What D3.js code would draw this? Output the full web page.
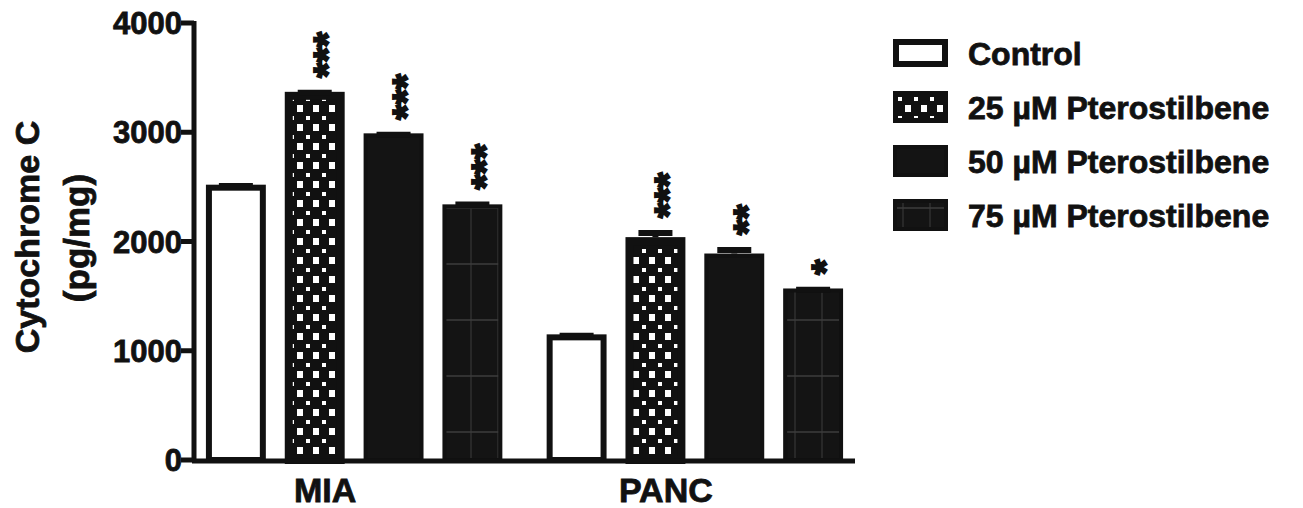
<!DOCTYPE html>
<html>
<head>
<meta charset="utf-8">
<script src="https://cdn.jsdelivr.net/npm/d3@7"></script>
<style>
  html, body { margin: 0; padding: 0; background: #fff; }
  text { font-family: "Liberation Sans", Arial, sans-serif; font-weight: bold; fill: #111; }
</style>
</head>
<body>
<svg id="chart" width="1303" height="508"></svg>
<script>
// ---- data ----
const groups = ["MIA", "PANC"];
const series = ["Control", "25 µM Pterostilbene", "50 µM Pterostilbene", "75 µM Pterostilbene"];
const miaValues = [2520, 3370, 2990, 2340];
const pancValues = [1150, 2040, 1890, 1570];
const miaErrors = [15, 20, 15, 25];
const pancErrors = [15, 65, 60, 15];
const miaStars = ["", "***", "***", "***"];
const pancStars = ["", "***", "**", "*"];
const yTicks = [0, 1000, 2000, 3000, 4000];
const yTitle = ["Cytochrome C", "(pg/mg)"];

const data = [];
groups.forEach((g, gi) => {
  const vals = gi === 0 ? miaValues : pancValues;
  const errs = gi === 0 ? miaErrors : pancErrors;
  const stars = gi === 0 ? miaStars : pancStars;
  series.forEach((s, si) => data.push({group: g, series: s, si, value: vals[si], err: errs[si], star: stars[si]}));
});

const svg = d3.select("#chart");
const defs = svg.append("defs");

// pattern: black with white squares in a diamond lattice (25 µM)
const pDots = defs.append("pattern").attr("id", "dots")
  .attr("patternUnits", "userSpaceOnUse").attr("width", 16).attr("height", 19);
pDots.append("rect").attr("width", 16).attr("height", 19).attr("fill", "#111");
pDots.append("rect").attr("x", 2).attr("y", 2).attr("width", 4).attr("height", 4).attr("fill", "#fff");
pDots.append("rect").attr("x", 9).attr("y", 10).attr("width", 6).attr("height", 7).attr("fill", "#fff");

// pattern: black with faint grid (75 µM)
const pGrid = defs.append("pattern").attr("id", "grid")
  .attr("patternUnits", "userSpaceOnUse").attr("width", 27).attr("height", 56);
pGrid.append("rect").attr("width", 27).attr("height", 56).attr("fill", "#141414");
pGrid.append("line").attr("x1", 12).attr("x2", 12).attr("y1", 0).attr("y2", 56)
  .attr("stroke", "#2e2e2e").attr("stroke-width", 1.5);
pGrid.append("line").attr("x1", 0).attr("x2", 27).attr("y1", 40).attr("y2", 40)
  .attr("stroke", "#3c3c3c").attr("stroke-width", 1.5);

const fills = ["#fff", "url(#dots)", "#141414", "url(#grid)"];
const strokeW = [6, 8, 4, 4];

// ---- scales ----
const y = d3.scaleLinear().domain([0, 4000]).range([460, 23]);
const x0 = d3.scaleBand().domain(groups).range([194, 855]).paddingInner(0.13).paddingOuter(0.035);
const x1 = d3.scaleBand().domain(series).range([0, x0.bandwidth()]).paddingInner(0.24);

// ---- bars ----
const bars = svg.append("g");
bars.selectAll("rect.bar").data(data).join("rect").attr("class", "bar")
  .attr("x", d => x0(d.group) + x1(d.series) + strokeW[d.si] / 2)
  .attr("y", d => y(d.value) + strokeW[d.si] / 2)
  .attr("width", d => x1.bandwidth() - strokeW[d.si])
  .attr("height", d => y(0) - y(d.value) - strokeW[d.si] / 2)
  .attr("fill", d => fills[d.si])
  .attr("stroke", "#111")
  .attr("stroke-width", d => strokeW[d.si]);

// ---- error bars ----
const capW = 34;
bars.selectAll("path.err").data(data).join("path").attr("class", "err")
  .attr("d", d => {
    const cx = x0(d.group) + x1(d.series) + x1.bandwidth() / 2;
    const yt = y(d.value + d.err) + 3;
    return `M${cx},${y(d.value)}V${yt}M${cx - capW / 2},${yt}H${cx + capW / 2}`;
  })
  .attr("fill", "none").attr("stroke", "#111").attr("stroke-width", 6);

// ---- significance stars (vertical) ----
svg.append("g").selectAll("text").data(data.filter(d => d.star)).join("text")
  .attr("transform", d => {
    const cx = x0(d.group) + x1(d.series) + x1.bandwidth() / 2 + 4;
    return `translate(${cx},${y(d.value + d.err) - 12}) rotate(-90)`;
  })
  .attr("dy", "0.57em")
  .attr("text-anchor", "start")
  .style("font-size", "39px")
  .style("stroke", "#111").style("stroke-width", 2)
  .text(d => d.star);

// ---- axes ----
const axisG = svg.append("g");
axisG.append("line").attr("x1", 194).attr("x2", 194).attr("y1", y(4000) - 2).attr("y2", y(0) + 2)
  .attr("stroke", "#111").attr("stroke-width", 5);
axisG.append("line").attr("x1", 192).attr("x2", 855).attr("y1", y(0) + 1).attr("y2", y(0) + 1)
  .attr("stroke", "#111").attr("stroke-width", 5);
axisG.selectAll("line.tick").data(yTicks).join("line").attr("class", "tick")
  .attr("x1", 181).attr("x2", 194).attr("y1", d => y(d)).attr("y2", d => y(d))
  .attr("stroke", "#111").attr("stroke-width", 5);
axisG.selectAll("text.tick").data(yTicks).join("text").attr("class", "tick")
  .attr("x", 182).attr("y", d => y(d)).attr("dy", "0.36em")
  .attr("text-anchor", "end").style("font-size", "31px")
  .style("stroke", "#111").style("stroke-width", 0.8)
  .text(d => d);

// group labels
axisG.selectAll("text.grp").data(groups).join("text").attr("class", "grp")
  .attr("x", d => x0(d) + x0.bandwidth() / 2 - 29).attr("y", 502)
  .attr("text-anchor", "middle").style("font-size", "34px")
  .style("stroke", "#111").style("stroke-width", 0.8)
  .text(d => d);

// y title
svg.append("text").attr("transform", "translate(39,237) rotate(-90)")
  .attr("text-anchor", "middle").style("font-size", "34px")
  .style("stroke", "#111").style("stroke-width", 0.8)
  .text(yTitle[0]);
svg.append("text").attr("transform", "translate(89,238) rotate(-90)")
  .attr("text-anchor", "middle").style("font-size", "35px")
  .style("stroke", "#111").style("stroke-width", 0.8)
  .text(yTitle[1]);

// ---- legend ----
const legend = svg.append("g");
const ly = d3.scalePoint().domain(series).range([53, 215]);
const lsw = [6, 5, 4, 4];
legend.selectAll("rect").data(series).join("rect")
  .attr("x", (d, i) => 893 + lsw[i] / 2)
  .attr("y", (d, i) => ly(d) - (i === 0 ? 14 : 16) + lsw[i] / 2)
  .attr("width", (d, i) => 55 - lsw[i])
  .attr("height", (d, i) => (i === 0 ? 28 : 32) - lsw[i])
  .attr("fill", (d, i) => fills[i])
  .attr("stroke", "#111").attr("stroke-width", (d, i) => lsw[i]);
legend.selectAll("text").data(series).join("text")
  .attr("x", 968).attr("y", d => ly(d)).attr("dy", "0.36em")
  .style("font-size", "32px")
  .style("stroke", "#111").style("stroke-width", 0.8)
  .text(d => d);
</script>
</body>
</html>
